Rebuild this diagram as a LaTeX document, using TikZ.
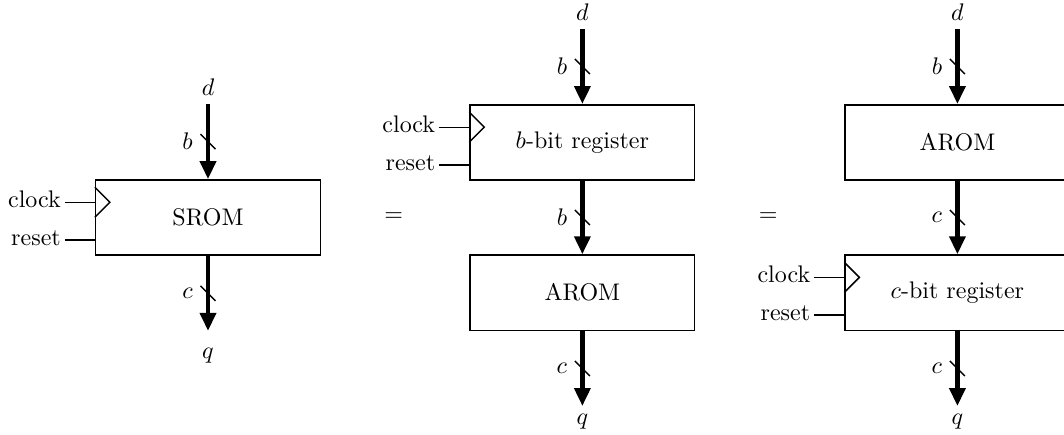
\documentclass[tikz,border=0pt]{standalone}
\usepackage{amsmath}
\usetikzlibrary{arrows.meta,calc}

\begin{document}
\begin{tikzpicture}[>=Latex, line join=miter,
    blk/.style={draw, semithick, minimum width=3.29cm, minimum height=1.1cm, inner sep=0pt},
    bus/.style={line width=2pt, -{Triangle[length=7.5pt,width=6.5pt]}},
    ctl/.style={semithick},
    sig/.style={inner sep=1.5pt}]
            \useasboundingbox (-3.045,-3.17) rectangle (12.53,3.184);

            % single synchronous ROM
            \node[blk] (srom) at (0,0) {SROM};
            % register followed by AROM
            \node[blk] (reg1) at (5.48,1.1) {$b$-bit register};
            \node[blk] (rom2) at (5.48,-1.1) {AROM};
            % AROM followed by register
            \node[blk] (rom3) at (10.97,1.1) {AROM};
            \node[blk] (reg3) at (10.97,-1.1) {$c$-bit register};

            \node (eq1) at (2.72,0) {$=$};
            \node (eq2) at (8.2,0) {$=$};

            \coordinate (d1) at ($(srom.north)+(0,1.1)$);
            \coordinate (q1) at ($(srom.south)+(0,-1.1)$);
            \coordinate (d2) at ($(reg1.north)+(0,1.1)$);
            \coordinate (q2) at ($(rom2.south)+(0,-1.1)$);
            \coordinate (d3) at ($(rom3.north)+(0,1.1)$);
            \coordinate (q3) at ($(reg3.south)+(0,-1.1)$);

            \foreach \p in {d1,d2,d3} \node[above] (lbl-\p) at (\p) {$d$};
            \node[below=3.5pt] (lbl-q1) at (q1) {$q$};
            \foreach \p in {q2,q3} \node[below] (lbl-\p) at (\p) {$q$};

            % buses with width marks
            \foreach \src/\dst/\w in {d1/srom.north/b, srom.south/q1/c,
                d2/reg1.north/b, reg1.south/rom2.north/b, rom2.south/q2/c,
                d3/rom3.north/b, rom3.south/reg3.north/c, reg3.south/q3/c} {
                \draw[bus] (\src) -- (\dst) coordinate[midway] (m);
                \draw[semithick] ($(m)+(-0.11,0.11)$) -- ($(m)+(0.11,-0.11)$);
                \node[left] at ($(m)+(-0.1,0)$) {$\w$};
            }

            % clock and reset inputs
            \foreach \r in {srom,reg1,reg3} {
                \draw[ctl] ($(\r.north west)+(0,-0.117)$) -- ++(0.22,-0.22) -- ++(-0.22,-0.22);
                \node[sig, anchor=mid east] (clk-\r) at ($(\r.west)+(-0.44,0.22)$) {clock};
                \node[sig, anchor=mid east] (rst-\r) at ($(\r.west)+(-0.44,-0.33)$) {reset};
                \draw[ctl] (clk-\r.mid east) -- (clk-\r.mid east -| \r.west);
                \draw[ctl] (rst-\r.mid east) -- (rst-\r.mid east -| \r.west);
            }

        \end{tikzpicture}
\end{document}
